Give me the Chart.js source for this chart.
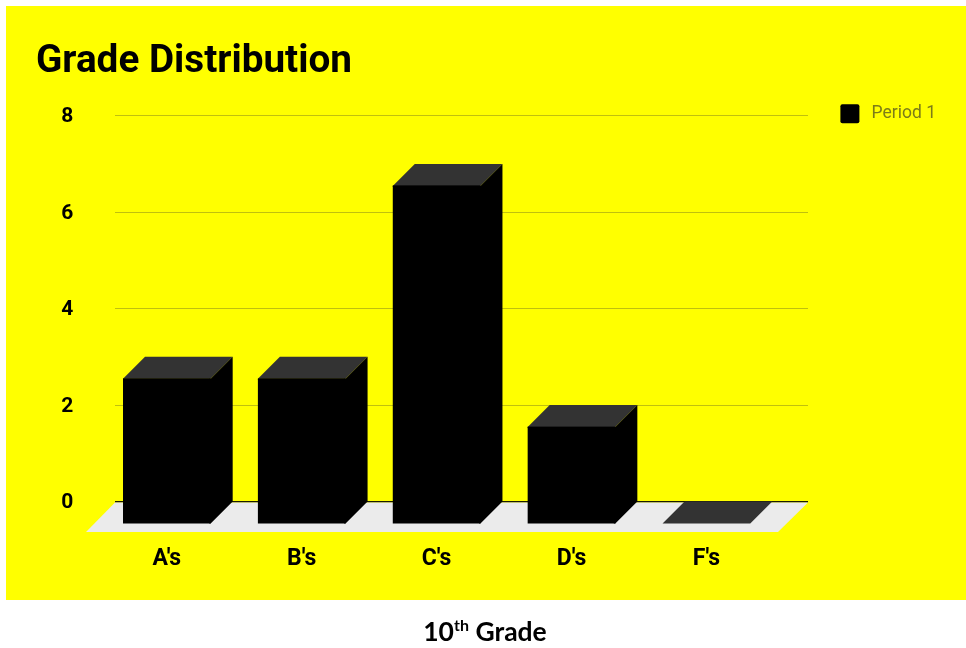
<!DOCTYPE html>
<html>
<head>
<meta charset="utf-8">
<style>
html,body{margin:0;padding:0;background:#fff;width:966px;height:648px;overflow:hidden}
canvas{position:absolute;left:0;top:0}
#cap{position:absolute;left:0;width:970px;top:614px;text-align:center;font:bold 26.5px/34px Lato,sans-serif;color:#000}
#cap sup{font-size:16px;line-height:0;vertical-align:10px}
</style>
<script src="https://cdn.jsdelivr.net/npm/chart.js@4/dist/chart.umd.min.js"></script>
</head>
<body>
<canvas id="c" width="966" height="648"></canvas>
<div id="cap">10<sup>th</sup> Grade</div>
<script>
const categories = ["A's", "B's", "C's", "D's", "F's"];
const period1 = [3, 3, 7, 2, 0];
const seriesName = 'Period 1';
const yTicks = [0, 2, 4, 6, 8];

const DEPTH = 22;
const threeD = {
  id: 'threeD',
  beforeDraw(chart) {
    const {ctx, scales: {y}} = chart;
    ctx.save();
    ctx.fillStyle = '#ffff00';
    ctx.fillRect(6, 6, 960, 594);
    const x0 = 115, x1 = 808;
    yTicks.forEach(v => {
      const py = Math.floor(y.getPixelForValue(v));
      ctx.fillStyle = v === 0 ? '#1a1a00' : '#c0c00e';
      ctx.fillRect(x0, py, x1 - x0, v === 0 ? 1.5 : 1);
    });
    const b = y.getPixelForValue(0) + 1;
    ctx.fillStyle = '#ebebeb';
    ctx.beginPath();
    ctx.moveTo(x0, b); ctx.lineTo(x1, b); ctx.lineTo(778, b + 29.4); ctx.lineTo(86, b + 29.4);
    ctx.closePath(); ctx.fill();
    ctx.restore();
  },
  beforeDatasetDraw(chart) {
    chart.ctx.save();
    chart.ctx.translate(0, DEPTH);
  },
  afterDatasetDraw(chart, args) {
    const ctx = chart.ctx;
    ctx.restore();
    const base = chart.scales.y.getPixelForValue(0);
    args.meta.data.forEach(bar => {
      const l = bar.x - bar.width / 2, r = bar.x + bar.width / 2, t = bar.y;
      ctx.fillStyle = '#333333';
      ctx.beginPath();
      ctx.moveTo(l, t + DEPTH); ctx.lineTo(l + DEPTH, t); ctx.lineTo(r + DEPTH, t); ctx.lineTo(r, t + DEPTH);
      ctx.closePath(); ctx.fill();
      if (t < base) {
        ctx.fillStyle = '#000';
        ctx.fillRect(l, t + DEPTH - 0.5, r - l, 1.5);
        ctx.beginPath();
        ctx.moveTo(r - 1.5, t + DEPTH); ctx.lineTo(r, t + DEPTH); ctx.lineTo(r + DEPTH, t); ctx.lineTo(r + DEPTH, base); ctx.lineTo(r, base + DEPTH); ctx.lineTo(r - 1.5, base + DEPTH);
        ctx.closePath(); ctx.fill();
      }
    });
  },
  afterLayout(chart) {
    const lg = chart.legend;
    lg.left = 830.4; lg.top = 94.3; lg.right = 936;
  }
};

new Chart(document.getElementById('c'), {
  type: 'bar',
  plugins: [threeD],
  data: {
    labels: categories,
    datasets: [{
      label: seriesName,
      data: period1,
      backgroundColor: '#000',
      borderWidth: 0,
      barPercentage: 0.65,
      categoryPercentage: 1,
      clip: false
    }]
  },
  options: {
    responsive: false,
    animation: false,
    layout: {padding: {left: 36, top: 39, right: 80, bottom: 46.4}},
    plugins: {
      tooltip: {enabled: false},
      title: {
        display: true, text: 'Grade Distribution', align: 'start', color: '#000',
        font: {family: 'Roboto', weight: 'bold', size: 38.7},
        padding: {top: 0, bottom: 30.2}
      },
      legend: {
        display: true, position: 'right', align: 'start',
        labels: {
          boxWidth: 19, boxHeight: 19, padding: 10, color: '#7c7c18', textAlign: 'right',
          useBorderRadius: true, borderRadius: 2,
          font: {family: 'Roboto', size: 17.5}
        }
      }
    },
    scales: {
      x: {
        grid: {display: false, drawTicks: false},
        border: {display: false},
        afterFit(s) { s.height = 100; },
        ticks: {
          color: '#000', padding: 44, maxRotation: 0, autoSkip: false,
          font: {family: 'Roboto', weight: 'bold', size: 23}
        }
      },
      y: {
        min: 0, max: 8,
        grid: {display: false, drawTicks: false},
        border: {display: false},
        afterFit(s) { s.width = 63.4; },
        ticks: {
          stepSize: 2, color: '#000', padding: 26, labelOffset: 1.2,
          font: {family: 'Roboto', weight: 'bold', size: 21}
        }
      }
    }
  }
});
</script>
</body>
</html>
